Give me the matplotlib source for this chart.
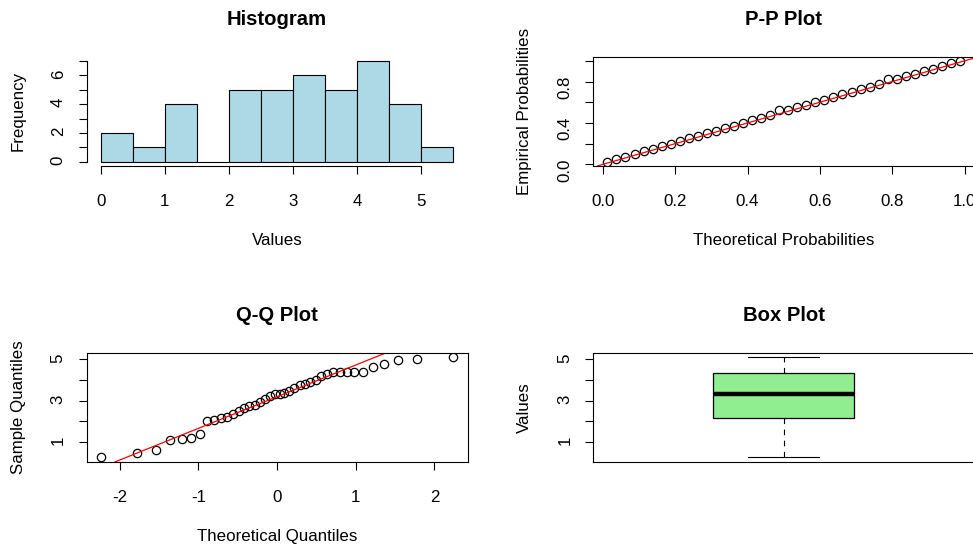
import matplotlib
matplotlib.use("Agg")
import matplotlib.pyplot as plt

W, H = 973, 544

# sorted sample (checked against the histogram)
sample_sorted = [0.27, 0.47, 0.60, 1.12, 1.14, 1.21, 1.37, 2.03, 2.05, 2.15,
                 2.19, 2.36, 2.52, 2.62, 2.75, 2.80, 2.95, 3.08, 3.20, 3.30,
                 3.30, 3.38, 3.47, 3.62, 3.75, 3.78, 3.88, 3.98, 4.18, 4.27,
                 4.36, 4.37, 4.37, 4.39, 4.40, 4.62, 4.78, 4.94, 4.99, 5.11]
hist_breaks = [0, 0.5, 1, 1.5, 2, 2.5, 3, 3.5, 4, 4.5, 5, 5.5]

qq_theoretical = [-2.241, -1.780, -1.534, -1.356, -1.213, -1.092, -0.984, -0.887,
                  -0.798, -0.714, -0.636, -0.561, -0.489, -0.419, -0.352, -0.286,
                  -0.221, -0.157, -0.094, -0.031, 0.031, 0.094, 0.157, 0.221,
                  0.286, 0.352, 0.419, 0.489, 0.561, 0.636, 0.714, 0.798,
                  0.887, 0.984, 1.092, 1.213, 1.356, 1.534, 1.780, 2.241]
qq_intercept = 3.19
qq_slope = 1.53

pp_theoretical = [0.0125, 0.0375, 0.0625, 0.0875, 0.1125, 0.1375, 0.1625, 0.1875,
                  0.2125, 0.2375, 0.2625, 0.2875, 0.3125, 0.3375, 0.3625, 0.3875,
                  0.4125, 0.4375, 0.4625, 0.4875, 0.5125, 0.5375, 0.5625, 0.5875,
                  0.6125, 0.6375, 0.6625, 0.6875, 0.7125, 0.7375, 0.7625, 0.7875,
                  0.8125, 0.8375, 0.8625, 0.8875, 0.9125, 0.9375, 0.9625, 0.9875]
pp_empirical = [0.025, 0.05, 0.075, 0.1, 0.125, 0.15, 0.175, 0.2,
                0.225, 0.25, 0.275, 0.3, 0.325, 0.35, 0.375, 0.4,
                0.425, 0.45, 0.475, 0.525, 0.525, 0.55, 0.575, 0.6,
                0.625, 0.65, 0.675, 0.7, 0.725, 0.75, 0.775, 0.825,
                0.825, 0.85, 0.875, 0.9, 0.925, 0.95, 0.975, 1.0]

box_whisker_low = 0.27
box_q1 = 2.17
box_median = 3.30
box_q3 = 4.32
box_whisker_high = 5.11

plt.rcParams['font.family'] = ['Liberation Sans', 'DejaVu Sans']
plt.rcParams['axes.unicode_minus'] = False

fig = plt.figure(figsize=(W / 100, H / 100), dpi=100)

PW, PH = 380.8, 109.0
LBL = 12.2


def panel(left, top):
    return fig.add_axes([left / W, 1 - (top + PH) / H, PW / W, PH / H])


def r_style(ax, title, xlabel, ylabel):
    ax.tick_params(direction='out', length=5.8, width=0.8, labelsize=LBL)
    ax.tick_params(axis='x', pad=14.8)
    ax.tick_params(axis='y', pad=9.3, labelrotation=90)
    for sp in ax.spines.values():
        sp.set_linewidth(0.8)
    ax.set_title(title, fontsize=14.6, fontweight='bold', pad=22.7)
    if xlabel:
        ax.set_xlabel(xlabel, fontsize=LBL, va='baseline')
        ax.xaxis.set_label_coords(0.5, -79 / PH)
    ax.set_ylabel(ylabel, fontsize=LBL, va='baseline')
    ax.yaxis.set_label_coords(-64 / PW, 0.5)


# Histogram
ax1 = panel(86.7, 56.8)
ax1.hist(sample_sorted, bins=hist_breaks, color='#ADD8E6', edgecolor='black', linewidth=0.8)
ax1.set_xlim(-0.22, 5.72)
ax1.set_ylim(-0.28, 7.28)
ax1.set_xticks(range(6))
ax1.set_yticks(range(8))
ax1.set_yticklabels(['0', '', '2', '', '4', '', '6', ''])
ax1.spines['top'].set_visible(False)
ax1.spines['right'].set_visible(False)
ax1.spines['left'].set_bounds(0, 7)
ax1.spines['bottom'].set_bounds(0, 5)
r_style(ax1, 'Histogram', 'Values', 'Frequency')

# P-P plot
ax2 = panel(593.3, 56.8)
ax2.plot(pp_theoretical, pp_empirical, 'o', mfc='none', mec='black', ms=6, mew=0.9)
ax2.axline((0, 0), slope=1, color='red', lw=0.9)
ax2.set_xlim(-0.0265, 1.0265)
ax2.set_ylim(-0.014, 1.039)
ax2.set_xticks([0, 0.2, 0.4, 0.6, 0.8, 1.0])
ax2.set_xticklabels(['0.0', '0.2', '0.4', '0.6', '0.8', '1.0'])
ax2.set_yticks([0, 0.2, 0.4, 0.6, 0.8, 1.0])
ax2.set_yticklabels(['0.0', '', '0.4', '', '0.8', ''])
r_style(ax2, 'P-P Plot', 'Theoretical Probabilities', 'Empirical Probabilities')

# Q-Q plot
ax3 = panel(86.7, 352.8)
ax3.plot(qq_theoretical, sample_sorted, 'o', mfc='none', mec='black', ms=6, mew=0.9)
ax3.axline((0, qq_intercept), slope=qq_slope, color='red', lw=0.9)
ax3.set_xlim(-2.4207, 2.4207)
ax3.set_ylim(0.043, 5.31)
ax3.set_xticks([-2, -1, 0, 1, 2])
ax3.set_yticks([1, 2, 3, 4, 5])
ax3.set_yticklabels(['1', '', '3', '', '5'])
r_style(ax3, 'Q-Q Plot', 'Theoretical Quantiles', 'Sample Quantiles')

# Box plot
ax4 = panel(593.3, 352.8)
stats = [{'whislo': box_whisker_low, 'q1': box_q1, 'med': box_median,
          'q3': box_q3, 'whishi': box_whisker_high, 'fliers': []}]
ax4.bxp(stats, positions=[1], widths=0.4, capwidths=0.2, patch_artist=True,
        manage_ticks=False,
        boxprops=dict(facecolor='#90EE90', edgecolor='black', linewidth=0.9),
        medianprops=dict(color='black', linewidth=3.2, solid_capstyle='butt'),
        whiskerprops=dict(color='black', linewidth=0.8, linestyle=(0, (5, 5))),
        capprops=dict(color='black', linewidth=0.8))
ax4.set_xlim(0.46, 1.54)
ax4.set_ylim(0.043, 5.31)
ax4.set_xticks([])
ax4.set_yticks([1, 2, 3, 4, 5])
ax4.set_yticklabels(['1', '', '3', '', '5'])
r_style(ax4, 'Box Plot', None, 'Values')

fig.savefig('out.png', dpi=100)
